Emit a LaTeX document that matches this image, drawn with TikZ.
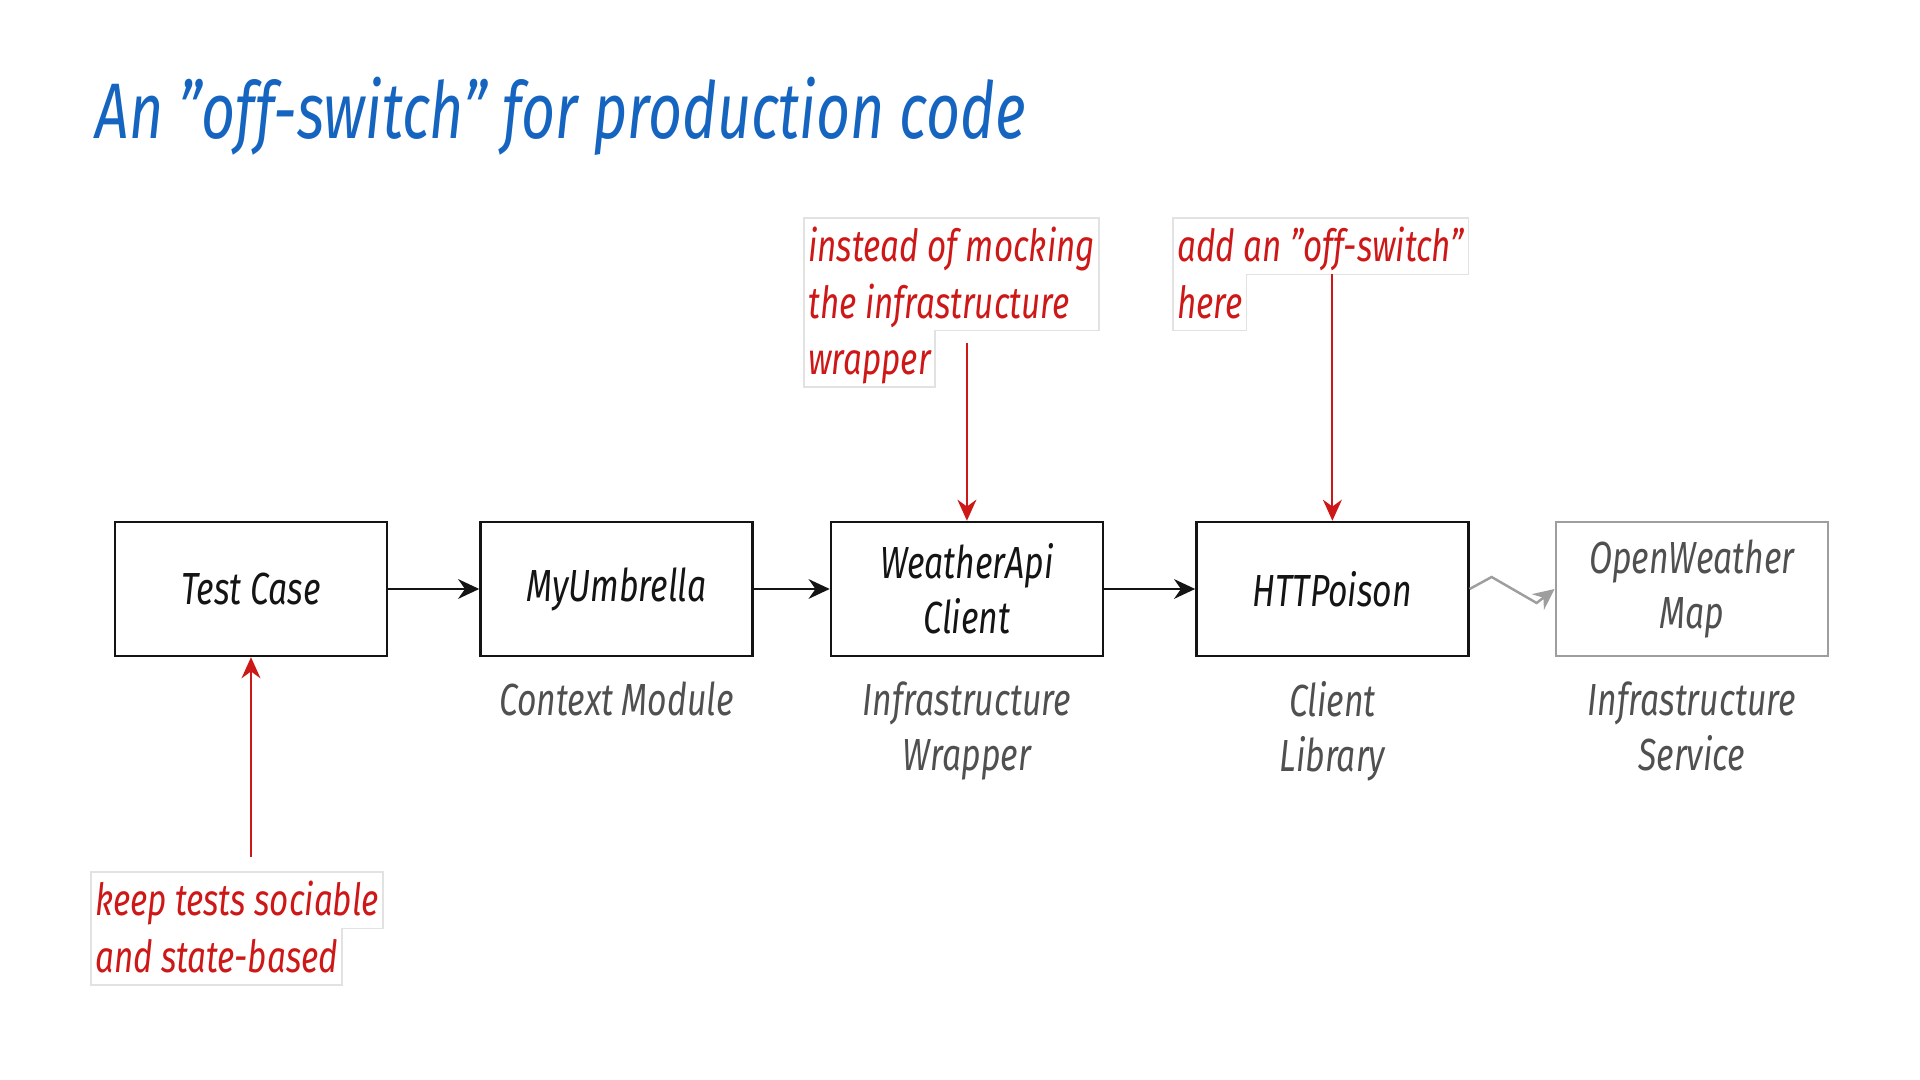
\documentclass[tikz,border=0pt]{standalone}
\usepackage{fontspec}
\setmainfont{Fira Sans}[FakeStretch=0.75]
\usetikzlibrary{positioning,arrows.meta,calc}
\definecolor{SketchBlue}{RGB}{21,101,192}
\definecolor{SketchRed}{RGB}{206,24,24}
\definecolor{SketchInk}{RGB}{20,20,20}
\definecolor{SketchGrey}{RGB}{80,80,80}
\definecolor{SketchFaint}{RGB}{158,158,158}
\definecolor{SketchEdge}{RGB}{226,226,226}
\newcommand{\handfont}{\fontsize{12.8}{15.6}\selectfont\itshape}
\newcommand{\notefont}{\fontsize{12.6}{15.6}\selectfont\itshape}
\tikzset{
  sketch box/.style={
    draw=SketchInk,
    line width=0.7pt,
    align=center,
    font=\handfont,
    text=SketchInk,
    minimum width=2.72cm,
    minimum height=1.34cm
  },
  sketch ext/.style={sketch box, draw=SketchFaint, text=SketchGrey},
  sketch role/.style={font=\handfont, text=SketchGrey, align=center},
  sketch note/.style={font=\notefont, text=SketchRed, anchor=north west,
    inner xsep=1pt, inner ysep=0pt, text height=0.43cm, text depth=0.12cm},
  sketch edge/.style={draw=SketchEdge, line width=0.4pt},
  sketch arrow/.style={-{Stealth[length=6pt,width=5.6pt]}, line width=0.7pt, SketchInk},
  sketch faint/.style={-{Stealth[length=6pt,width=5.6pt]}, line width=0.7pt, SketchFaint},
  sketch poke/.style={-{Stealth[length=6pt,width=5.4pt]}, line width=0.6pt, SketchRed}
}
\begin{document}
\begin{tikzpicture}
\useasboundingbox (0,0) rectangle (19.2,10.8);
\node[anchor=base west, inner sep=0pt, text=SketchBlue,
  font=\fontsize{22.4}{26}\selectfont\itshape] (title) at (0.95,9.41)
  {An "off-switch" for production code};
% the call chain
\node[sketch box] (tc) at (2.51,4.91) {Test Case};
\node[sketch box, right=0.91cm of tc] (mu) {MyUmbrella};
\node[sketch box, right=0.76cm of mu] (wa) {WeatherApi\\Client};
\node[sketch box, right=0.91cm of wa] (hp) {HTTPoison};
\node[sketch ext, right=0.85cm of hp] (ow) {OpenWeather\\Map};
\node[sketch role, below=0.12cm of mu] (mu role) {Context Module};
\node[sketch role, below=0.12cm of wa] (wa role) {Infrastructure\\Wrapper};
\node[sketch role, below=0.12cm of hp] (hp role) {Client\\Library};
\node[sketch role, below=0.12cm of ow] (ow role) {Infrastructure\\Service};
\draw[sketch arrow] (tc)--(mu);
\draw[sketch arrow] (mu)--(wa);
\draw[sketch arrow] (wa)--(hp);
\draw[sketch faint] (hp.east)--++(0.22,0.12)--++(0.45,-0.26)--(ow.west);
% notes
\node[sketch note] (a1) at (8.04,8.62) {instead of mocking};
\node[sketch note] (a2) at (a1.south west) {the infrastructure};
\node[sketch note] (a3) at (a2.south west) {wrapper};
\node[sketch note] (b1) at (11.73,8.62) {add an "off-switch"};
\node[sketch note] (b2) at (b1.south west) {here};
\node[sketch note] (c1) at (0.91,2.08) {keep tests sociable};
\node[sketch note] (c2) at (c1.south west) {and state-based};
\draw[sketch edge] (a1.north west)--(a1.north east)--(a1.north east |- a2.south)
  --(a3.north east)--(a3.south east)--(a3.south west)--cycle;
\draw[sketch edge] (b1.north west)--(b1.north east)--(b1.south east)--(b2.north east)
  --(b2.south east)--(b2.south west)--cycle;
\draw[sketch edge] (c1.north west)--(c1.north east)--(c1.south east)--(c2.north east)
  --(c2.south east)--(c2.south west)--cycle;
\coordinate (wa tail) at ($(wa.north |- a2.south)+(0,-0.12)$);
\coordinate (tc tail) at ($(tc.south |- c1.north)+(0,0.15)$);
\draw[sketch poke] (wa tail)--(wa.north);
\draw[sketch poke] (b1.south -| hp.north)--(hp.north);
\draw[sketch poke] (tc tail)--(tc.south);
\end{tikzpicture}
\end{document}
